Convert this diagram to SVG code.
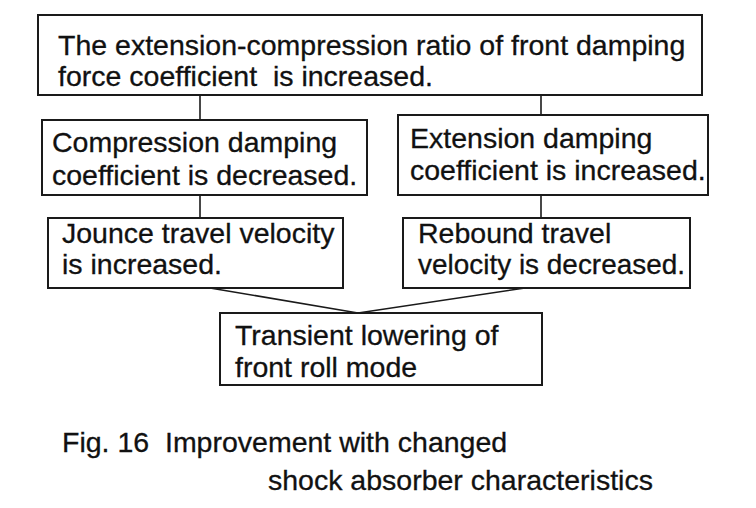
<svg xmlns="http://www.w3.org/2000/svg" width="756" height="508" viewBox="0 0 756 508">
<style>
rect.box{fill:#fff;stroke:#1a1a1a;stroke-width:2}
text{font-family:"Liberation Sans",Arial,sans-serif;font-size:28.5px;fill:#111;stroke:#111;stroke-width:0.3}
.conn line,.conn polyline{stroke:#1a1a1a;stroke-width:1.6;fill:none}
</style>
<rect width="756" height="508" fill="#fff"/>
<g class="conn" id="connectors">
<line x1="200" y1="95" x2="200" y2="120"/>
<line x1="541" y1="95" x2="541" y2="115"/>
<line x1="200" y1="195" x2="200" y2="218"/>
<line x1="541" y1="195" x2="541" y2="218"/>
<polyline points="210,288 358,313 525,288"/>
</g>
<g id="n1"><rect class="box" x="38" y="15" width="664" height="80"/>
<text x="58" y="55">The extension-compression ratio of front damping</text>
<text x="58" y="86" xml:space="preserve">force coefficient  is increased.</text></g>
<g id="n2"><rect class="box" x="42" y="120" width="325" height="75"/>
<text x="52" y="152">Compression damping</text>
<text x="52" y="185">coefficient is decreased.</text></g>
<g id="n3"><rect class="box" x="398" y="115" width="310" height="80"/>
<text x="410" y="148">Extension damping</text>
<text x="410" y="180">coefficient is increased.</text></g>
<g id="n4"><rect class="box" x="48" y="218" width="295" height="70"/>
<text x="62" y="243">Jounce travel velocity</text>
<text x="62" y="274">is increased.</text></g>
<g id="n5"><rect class="box" x="403" y="218" width="287" height="70"/>
<text x="418" y="243">Rebound travel</text>
<text x="418" y="274" textLength="267" lengthAdjust="spacingAndGlyphs">velocity is decreased.</text></g>
<g id="n6"><rect class="box" x="220" y="313" width="322" height="72"/>
<text x="235" y="345">Transient lowering of</text>
<text x="235" y="377">front roll mode</text></g>
<g id="caption">
<text x="62" y="452" xml:space="preserve">Fig. 16  Improvement with changed</text>
<text x="268" y="490">shock absorber characteristics</text></g>
</svg>
